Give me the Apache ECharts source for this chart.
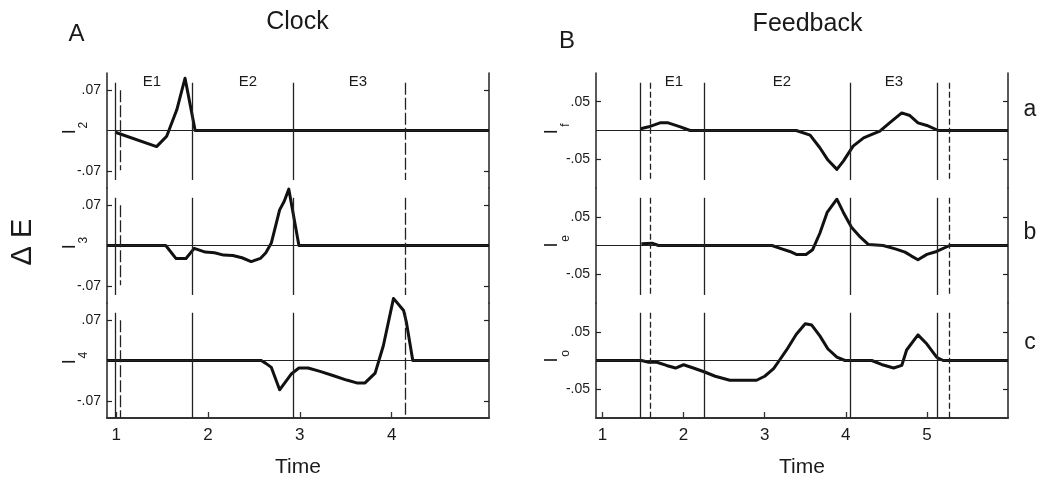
<!DOCTYPE html>
<html lang="en">
<head>
<meta charset="UTF-8">
<title>Clock / Feedback</title>
<script src="https://cdn.jsdelivr.net/npm/echarts@6/dist/echarts.min.js"></script>
<style>
  html, body { margin: 0; padding: 0; background: #fff; }
  #main { width: 1042px; height: 479px; }
</style>
</head>
<body>
<div id="main"></div>
<script>
// ---- data ----
const xTicksA = [1, 2, 3, 4];
const xTicksB = [1, 2, 3, 4, 5];
const yTicksA = [-0.07, 0.07];
const yTickLabelsA = ['-.07', '.07'];
const yTicksB = [-0.05, 0.05];
const yTickLabelsB = ['-.05', '.05'];
const epochLabels = ['E1', 'E2', 'E3'];
const rowLetters = ['a', 'b', 'c'];
const subsA = ['2', '3', '4'];
const subsB = ['f', 'e', 'o'];

// event times (vertical markers)
const solidA = [0.99, 1.83, 2.93];
const dashedA = [1.04, 4.15];
const solidB = [1.47, 2.26, 4.06, 5.13];
const dashedB = [1.59, 5.28];

// Clock model, ΔE per unit
const i2 = [[0.99, -0.003], [1.44, -0.028], [1.55, -0.010], [1.66, 0.036], [1.75, 0.091], [1.86, 0], [5.06, 0]];
const i3 = [[0.9, 0], [1.54, 0], [1.65, -0.0225], [1.76, -0.0225], [1.85, -0.005], [1.97, -0.0115], [2.07, -0.0127],
  [2.17, -0.0167], [2.27, -0.0173], [2.37, -0.0213], [2.47, -0.028], [2.57, -0.0225], [2.63, -0.0127], [2.69, 0.0046],
  [2.78, 0.062], [2.83, 0.077], [2.88, 0.098], [2.99, 0], [5.06, 0]];
const i4 = [[0.9, 0], [2.58, 0], [2.63, -0.005], [2.69, -0.012], [2.78, -0.051], [2.84, -0.038], [2.91, -0.023],
  [2.99, -0.013], [3.09, -0.013], [3.22, -0.019], [3.36, -0.026], [3.51, -0.034], [3.62, -0.039], [3.71, -0.039],
  [3.82, -0.022], [3.91, 0.026], [4.02, 0.108], [4.13, 0.087], [4.16, 0.067], [4.23, 0], [5.06, 0]];

// Feedback model
const iF = [[1.47, 0.003], [1.57, 0.0064], [1.71, 0.0133], [1.81, 0.0133], [1.96, 0.0064], [2.08, 0], [3.39, 0],
  [3.56, -0.0081], [3.68, -0.030], [3.78, -0.0514], [3.89, -0.0676], [3.97, -0.0532], [4.09, -0.0272], [4.22, -0.0127],
  [4.30, -0.0081], [4.42, -0.0012], [4.54, 0.0133], [4.69, 0.0306], [4.79, 0.026], [4.89, 0.0133], [5.00, 0.0087],
  [5.14, 0], [6.0, 0]];
const iE = [[1.48, 0.003], [1.61, 0.004], [1.69, 0], [3.09, 0], [3.21, -0.0058], [3.31, -0.0104], [3.39, -0.0155],
  [3.51, -0.0155], [3.59, -0.0075], [3.68, 0.0213], [3.77, 0.0575], [3.89, 0.0805], [3.97, 0.0575], [4.07, 0.0316],
  [4.18, 0.0144], [4.28, 0.0017], [4.46, 0], [4.61, -0.0058], [4.73, -0.0115], [4.81, -0.0184], [4.89, -0.0247],
  [5.00, -0.0155], [5.12, -0.0104], [5.28, 0], [6.0, 0]];
const iO = [[0.92, 0], [1.48, 0], [1.57, -0.003], [1.67, -0.003], [1.79, -0.0086], [1.90, -0.0131], [2.00, -0.0074],
  [2.12, -0.0131], [2.26, -0.020], [2.39, -0.0274], [2.57, -0.0343], [2.90, -0.0343], [3.00, -0.0274], [3.11, -0.0143],
  [3.18, 0], [3.27, 0.0183], [3.39, 0.0457], [3.50, 0.064], [3.58, 0.0617], [3.68, 0.0428], [3.78, 0.020],
  [3.89, 0.0057], [3.99, 0], [4.32, 0], [4.44, -0.0069], [4.59, -0.0131], [4.69, -0.0086], [4.75, 0.0183],
  [4.89, 0.0445], [5.00, 0.0286], [5.12, 0.0057], [5.20, 0], [6.0, 0]];

// ---- layout ----
const FONT = 'Liberation Sans, Arial, sans-serif';
const INK = '#1a1a1a';
const rowTops = [73, 188, 303];
const rowH = 115;

const panelA = {
  left: 107, width: 382, xmin: 0.9, xmax: 5.06,
  xTicks: xTicksA, yTicks: yTicksA, yLabels: yTickLabelsA,
  solid: solidA, dashed: dashedA, dash: [12, 3],
  rows: [i2, i3, i4]
};
const panelB = {
  left: 596, width: 412, xmin: 0.92, xmax: 6.0,
  xTicks: xTicksB, yTicks: yTicksB, yLabels: yTickLabelsB,
  solid: solidB, dashed: dashedB, dash: [6, 3],
  rows: [iF, iE, iO]
};

const grids = [], xAxes = [], yAxes = [], series = [];

function vline(x, y1, y2, style) {
  return [{ coord: [x, y1], lineStyle: style }, { coord: [x, y2], lineStyle: style }];
}

function addRow(P, row, isA) {
  const gi = grids.length;
  const last = row === 2;
  grids.push({ left: P.left, width: P.width, top: rowTops[row], height: rowH, outerBoundsMode: 'none', containLabel: false });

  xAxes.push({
    type: 'value', gridIndex: gi, min: P.xmin, max: P.xmax, show: last, position: 'bottom',
    axisLine: { onZero: false, lineStyle: { color: '#333', width: 2 } },
    axisTick: { inside: true, length: 6, customValues: P.xTicks, lineStyle: { color: '#333', width: 1.3 } },
    axisLabel: { customValues: P.xTicks, fontSize: 17, color: INK, fontFamily: FONT, margin: 9 },
    splitLine: { show: false },
    name: last ? 'Time' : '', nameLocation: 'middle', nameGap: 39,
    nameTextStyle: { fontSize: 21, color: INK, fontFamily: FONT }
  });

  const tickFmt = (v) => {
    let k = 0;
    P.yTicks.forEach((t, i) => { if (Math.abs(t - v) < Math.abs(P.yTicks[k] - v)) k = i; });
    return P.yLabels[k];
  };
  yAxes.push({
    type: 'value', gridIndex: gi, position: 'left', min: -0.1, max: 0.1,
    axisLine: { show: true, onZero: false, lineStyle: { color: '#222', width: 1.5 } },
    axisTick: { show: true, inside: true, length: 5, customValues: P.yTicks, lineStyle: { color: '#222', width: 1.2 } },
    axisLabel: { customValues: P.yTicks, formatter: tickFmt, fontSize: 14, color: INK, fontFamily: FONT, margin: 6 },
    splitLine: { show: false }
  });
  yAxes.push({
    type: 'value', gridIndex: gi, position: 'right', min: -0.1, max: 0.1,
    axisLine: { show: true, onZero: false, lineStyle: { color: '#222', width: 1.5 } },
    axisTick: { show: true, inside: true, length: 5, customValues: P.yTicks, lineStyle: { color: '#222', width: 1.2 } },
    axisLabel: { show: false },
    splitLine: { show: false }
  });

  const bot = last ? -0.1 : -0.086;
  const solidStyle = { color: '#222', width: 1.3, type: 'solid' };
  const dashStyle = { color: '#222', width: 1.3, type: P.dash };
  const marks = [{ yAxis: 0, lineStyle: { color: '#222', width: 1, type: 'solid' } }];
  P.solid.forEach((x) => marks.push(vline(x, 0.083, bot, solidStyle)));
  P.dashed.forEach((x, i) => {
    const shortOne = isA && i === 0;
    marks.push(vline(x, shortOne ? 0.07 : 0.083, last ? -0.1 : (shortOne ? -0.069 : bot), dashStyle));
  });

  series.push({
    type: 'line', xAxisIndex: gi, yAxisIndex: 2 * gi,
    data: P.rows[row], showSymbol: false, symbol: 'none', clip: false, silent: true, z: 3,
    lineStyle: { color: '#111', width: 3, join: 'round' },
    markLine: { silent: true, symbol: ['none', 'none'], label: { show: false }, emphasis: { disabled: true }, data: marks }
  });
}

[0, 1, 2].forEach((r) => addRow(panelA, r, true));
[0, 1, 2].forEach((r) => addRow(panelB, r, false));

function txt(x, y, s, size, extra) {
  return Object.assign({
    type: 'text', x: x, y: y, silent: true,
    style: {
      text: s, fontSize: size, fontFamily: FONT, fill: INK,
      textAlign: 'center', textVerticalAlign: 'middle', align: 'center', verticalAlign: 'middle'
    }
  }, extra || {});
}

function subLabel(x, y, sub) {
  return {
    type: 'group', x: x, y: y, rotation: Math.PI / 2, silent: true,
    children: [txt(0, 0, 'I', 18), txt(6.5, 13, sub, 12)]
  };
}

const graphics = [
  txt(76.5, 34, 'A', 24),
  txt(567, 41, 'B', 24),
  txt(297.5, 22, 'Clock', 25),
  txt(807.5, 24.5, 'Feedback', 25),
  txt(23, 242, 'Δ E', 29, { rotation: Math.PI / 2 })
];
[152, 248, 358].forEach((x, i) => graphics.push(txt(x, 82, epochLabels[i], 15)));
[674, 782, 894].forEach((x, i) => graphics.push(txt(x, 82, epochLabels[i], 15)));
[110, 233, 343].forEach((y, i) => graphics.push(txt(1030, y, rowLetters[i], 23)));
[131.7, 246.7, 361.7].forEach((y, i) => graphics.push(subLabel(70.5, y, subsA[i])));
[131.7, 245, 360].forEach((y, i) => graphics.push(subLabel(552.5, y, subsB[i])));

const chart = echarts.init(document.getElementById('main'), null, { renderer: 'canvas' });
chart.setOption({
  animation: false,
  backgroundColor: '#fff',
  textStyle: { fontFamily: FONT },
  grid: grids,
  xAxis: xAxes,
  yAxis: yAxes,
  series: series,
  graphic: graphics
});
</script>
</body>
</html>
